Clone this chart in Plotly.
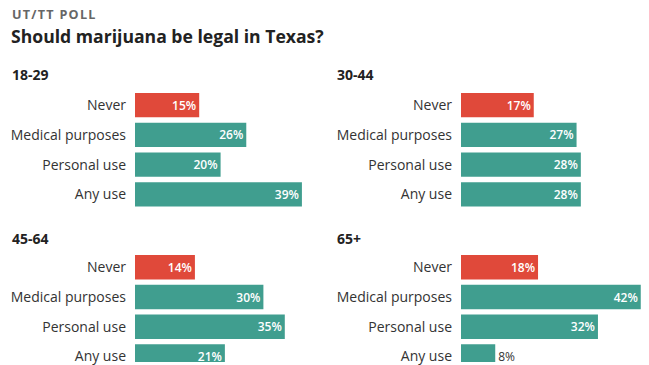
import plotly.graph_objects as go

# ---- data ----
title_kicker = "UT/TT POLL"
title_text = "Should marijuana be legal in Texas?"
categories = ["Never", "Medical purposes", "Personal use", "Any use"]
age_groups = ["18-29", "30-44", "45-64", "65+"]
values_18_29 = [15, 26, 20, 39]
values_30_44 = [17, 27, 28, 28]
values_45_64 = [14, 30, 35, 21]
values_65_plus = [18, 42, 32, 8]

W, H = 649, 365
RED = "#e0493a"
TEAL = "#409e8f"
FONT = "Open Sans"

def px_x(p):
    return p / W

def px_y(p):
    return 1 - p / H

panels = [
    (age_groups[0], values_18_29, 1),
    (age_groups[1], values_30_44, 2),
    (age_groups[2], values_45_64, 3),
    (age_groups[3], values_65_plus, 4),
]

scale = 4.28  # px per percent
bar_len_px = 188
x_max = bar_len_px / scale
x_domains = {"left": [px_x(135), px_x(135 + bar_len_px)], "right": [px_x(461), 1.0]}
top_dom = [px_y(211), px_y(91)]
bot_dom = [0.0, px_y(254.5)]
bot_range_bottom = -0.5 + (H - 254.5) / 30.0

fig = go.Figure()
layout_axes = {}
idx = list(range(len(categories)))
for name, vals, k in panels:
    col = "left" if k in (1, 3) else "right"
    row_top = k in (1, 2)
    colors = [RED if i == 0 else TEAL for i in idx]
    tpos = ["outside" if v < 10 else "inside" for v in vals]
    sfx = "" if k == 1 else str(k)
    fig.add_trace(go.Bar(
        x=vals, y=idx, orientation="h",
        marker=dict(color=colors, line=dict(width=0)),
        width=0.82,
        text=[f"{v}%" for v in vals],
        textposition=tpos,
        insidetextanchor="end",
        insidetextfont=dict(color="white", size=12, family=FONT, weight=600),
        outsidetextfont=dict(color="#333333", size=12, family=FONT, weight=400),
        textfont=dict(size=12, family=FONT),
        constraintext="none",
        cliponaxis=False,
        hoverinfo="skip",
        xaxis="x" + sfx, yaxis="y" + sfx,
        showlegend=False,
    ))
    layout_axes["xaxis" + sfx] = dict(
        domain=x_domains[col], range=[0, x_max], visible=False, fixedrange=True,
        anchor="y" + sfx,
    )
    layout_axes["yaxis" + sfx] = dict(
        domain=top_dom if row_top else bot_dom,
        range=[3.5, -0.5] if row_top else [bot_range_bottom, -0.5],
        tickvals=idx, ticktext=categories,
        showgrid=False, zeroline=False, showline=False, ticks="",
        ticklabelstandoff=8,
        ticklabeloverflow="allow",
        tickfont=dict(family=FONT, size=14, color="#333333"),
        anchor="x" + sfx, fixedrange=True,
    )

kicker_spaced = "\u200a".join(title_kicker)
annotations = [
    dict(text=f"<b>{kicker_spaced}</b>", x=px_x(10), y=px_y(15), xref="paper", yref="paper",
         xanchor="left", yanchor="middle", showarrow=False,
         font=dict(family=FONT, size=12.6, color="#666666")),
    dict(text=f"<b>{title_text}</b>", x=px_x(9), y=px_y(36), xref="paper", yref="paper",
         xanchor="left", yanchor="middle", showarrow=False,
         font=dict(family=FONT, size=17.6, color="#222222")),
]
label_pos = [(10, 75), (335, 75), (10, 240), (335, 240)]
for g, (lx, ly) in zip(age_groups, label_pos):
    annotations.append(dict(text=f"<b>{g}</b>", x=px_x(lx), y=px_y(ly), xref="paper", yref="paper",
                            xanchor="left", yanchor="middle", showarrow=False,
                            font=dict(family=FONT, size=14, color="#222222")))

fig.update_layout(
    width=W, height=H,
    margin=dict(l=0, r=0, t=0, b=0),
    paper_bgcolor="white", plot_bgcolor="white",
    font=dict(family=FONT),
    annotations=annotations,
    **layout_axes,
)

fig.write_html("out.html", config={"displayModeBar": False},
               post_script="document.body.style.margin='0';document.body.style.overflow='hidden';")
